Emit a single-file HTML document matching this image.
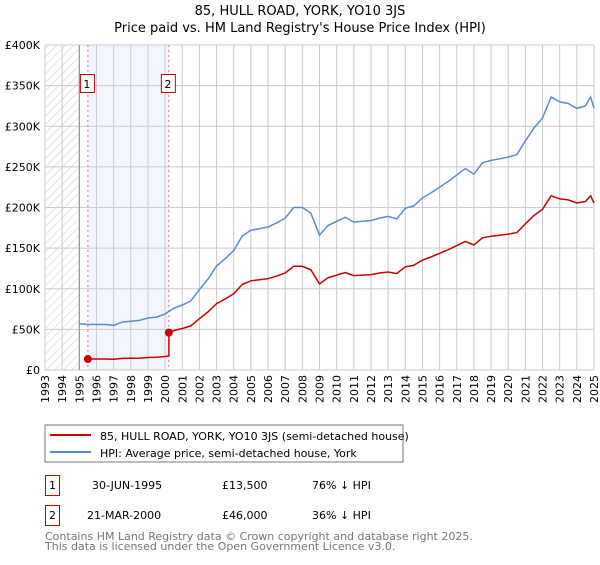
<!DOCTYPE html>
<html><head><meta charset="utf-8"><style>
body{margin:0;background:#fff;font-family:"Liberation Sans","DejaVu Sans",sans-serif;}
svg text{font-family:"DejaVu Sans","Liberation Sans",sans-serif;}
</style></head><body>
<svg id="c" width="600" height="560" xmlns="http://www.w3.org/2000/svg">
<defs><pattern id="hatch" width="6" height="6" patternUnits="userSpaceOnUse" patternTransform="rotate(45)"><line x1="0" y1="0" x2="0" y2="6" stroke="#ccc" stroke-width="1"/></pattern></defs>
<text x="300" y="15" text-anchor="middle" font-size="13">85, HULL ROAD, YORK, YO10 3JS</text>
<text x="300" y="32" text-anchor="middle" font-size="13">Price paid vs. HM Land Registry's House Price Index (HPI)</text>
<g id="plot"></g>
<rect x="45" y="425" width="358" height="37" fill="#fff" stroke="#777"/>
<line x1="50" y1="435" x2="91" y2="435" stroke="#cc0000" stroke-width="2"/>
<text x="100" y="440" font-size="11">85, HULL ROAD, YORK, YO10 3JS (semi-detached house)</text>
<line x1="50" y1="452" x2="91" y2="452" stroke="#5b8bd0" stroke-width="2"/>
<text x="100" y="457" font-size="11">HPI: Average price, semi-detached house, York</text>
<g font-size="11">
<rect x="45.5" y="475.5" width="14" height="20" fill="none" stroke="#cc0000"/>
<text x="52.5" y="489" text-anchor="middle">1</text>
<text x="92" y="489">30-JUN-1995</text><text x="222" y="489">£13,500</text><text x="312" y="489">76% ↓ HPI</text>
<rect x="45.5" y="505.5" width="14" height="20" fill="none" stroke="#cc0000"/>
<text x="52.5" y="519" text-anchor="middle">2</text>
<text x="87" y="519">21-MAR-2000</text><text x="222" y="519">£46,000</text><text x="312" y="519">36% ↓ HPI</text>
</g>
<text x="45" y="540" font-size="11" fill="#777">Contains HM Land Registry data © Crown copyright and database right 2025.</text>
<text x="45" y="550" font-size="11" fill="#777">This data is licensed under the Open Government Licence v3.0.</text>
</svg>
<script>
const hpiYears=[1995,1995.5,1996,1996.5,1997,1997.5,1998,1998.5,1999,1999.5,2000,2000.5,2001,2001.5,2002,2002.5,2003,2003.5,2004,2004.5,2005,2005.5,2006,2006.5,2007,2007.5,2008,2008.5,2009,2009.5,2010,2010.5,2011,2011.5,2012,2012.5,2013,2013.5,2014,2014.5,2015,2015.5,2016,2016.5,2017,2017.5,2018,2018.5,2019,2019.5,2020,2020.5,2021,2021.5,2022,2022.5,2023,2023.5,2024,2024.5,2024.8,2025];
const hpiValues=[57,56,56,56,55,59,60,61,64,65,69,76,80,85,99,112,128,137,147,165,172,174,176,181,187,200,200,193,166,178,183,188,182,183,184,187,189,186,199,202,212,218,225,232,240,248,241,255,258,260,262,265,282,298,310,336,330,328,322,325,336,322];
const saleDates=[1995.5,2000.22];
const salePrices=[13.5,46];
const yTicks=[0,50,100,150,200,250,300,350,400];
const yTickLabels=["£0","£50K","£100K","£150K","£200K","£250K","£300K","£350K","£400K"];
const xYears=[];for(let y=1993;y<=2025;y++)xYears.push(y);

const X0=45,X1=594,Y0=370,Y1=45;
const xs=y=>X0+(y-1993)/(2025-1993)*(X1-X0);
const ys=v=>Y0-v/400*(Y0-Y1);
const NS="http://www.w3.org/2000/svg";
const g=document.getElementById('plot');
function mk(t,a){const e=document.createElementNS(NS,t);for(const k in a)e.setAttribute(k,a[k]);g.appendChild(e);return e;}
function hpiAt(t){for(let i=0;i<hpiYears.length-1;i++){if(t<=hpiYears[i+1]){const f=(t-hpiYears[i])/(hpiYears[i+1]-hpiYears[i]);return hpiValues[i]+f*(hpiValues[i+1]-hpiValues[i]);}}return hpiValues[hpiValues.length-1];}

let e=mk('rect',{x:xs(1993),y:Y1,width:xs(1995)-xs(1993),height:Y0-Y1,fill:'url(#hatch)'});


e=mk('rect',{x:xs(saleDates[0]),y:Y1,width:xs(saleDates[1])-xs(saleDates[0]),height:Y0-Y1,fill:'#eef3fc',opacity:0.8});


xYears.forEach(y=>{const l=mk('line',{x1:xs(y),x2:xs(y),y1:Y1,y2:Y0,stroke:'#ccc','stroke-width':1});


const t=mk('text',{x:0,y:0,'font-size':11,transform:`translate(${xs(y)+4},${Y0+5}) rotate(-90)`,'text-anchor':'end'});t.textContent=y;

});
yTicks.forEach((v,i)=>{const l=mk('line',{x1:X0,x2:X1,y1:ys(v),y2:ys(v),stroke:'#ccc','stroke-width':1});


const t=mk('text',{x:40,y:ys(v)+4,'font-size':11,'text-anchor':'end'});t.textContent=yTickLabels[i];

});
e=mk('line',{x1:xs(1995),x2:xs(1995),y1:Y1,y2:Y0,stroke:'#888'});


saleDates.forEach((d,i)=>{const l=mk('line',{x1:xs(d),x2:xs(d),y1:Y1,y2:Y0,stroke:'#ff6666','stroke-dasharray':'2,3'});


const r=mk('rect',{x:xs(d)-7.5,y:74.5,width:14,height:18,fill:'#fff',stroke:'#cc0000'});


const t=mk('text',{x:xs(d)-1,y:88,'font-size':11,'text-anchor':'middle'});t.textContent=String(i+1);

});
// HPI line
let p=hpiYears.map((y,i)=>(i?'L':'M')+xs(y).toFixed(1)+','+ys(hpiValues[i]).toFixed(1)).join('');
e=mk('path',{d:p,fill:'none',stroke:'#5b8bd0','stroke-width':1.5});


// price paid line: sale price indexed by HPI
let pts=[];
const s0=salePrices[0]/hpiAt(saleDates[0]),s1=salePrices[1]/hpiAt(saleDates[1]);
pts.push([saleDates[0],salePrices[0]]);
hpiYears.forEach((y,i)=>{if(y>saleDates[0]&&y<saleDates[1])pts.push([y,hpiValues[i]*s0]);});
pts.push([saleDates[1],hpiAt(saleDates[1])*s0]);
pts.push([saleDates[1],salePrices[1]]);
hpiYears.forEach((y,i)=>{if(y>saleDates[1])pts.push([y,hpiValues[i]*s1]);});
p=pts.map((q,i)=>(i?'L':'M')+xs(q[0]).toFixed(1)+','+ys(q[1]).toFixed(1)).join('');
e=mk('path',{d:p,fill:'none',stroke:'#cc0000','stroke-width':1.5});


saleDates.forEach((d,i)=>{const c=mk('circle',{cx:xs(d),cy:ys(salePrices[i]),r:4,fill:'#cc0000'});

});
</script>
</body></html>
